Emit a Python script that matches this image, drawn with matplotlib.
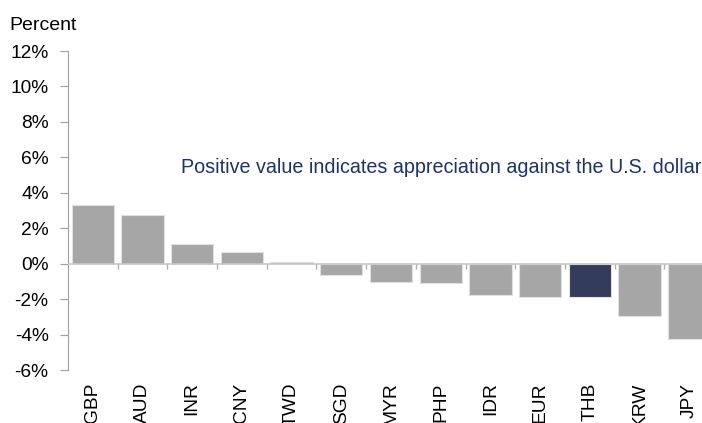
import numpy as np
import matplotlib.pyplot as plt

plt.rcParams['font.family'] = ['Liberation Sans', 'DejaVu Sans']

currencies = ['GBP', 'AUD', 'INR', 'CNY', 'TWD', 'SGD', 'MYR', 'PHP', 'IDR', 'EUR', 'THB', 'KRW', 'JPY']
change = [3.32, 2.76, 1.13, 0.66, 0.08, -0.66, -1.01, -1.07, -1.75, -1.86, -1.9, -2.95, -4.26]
highlight = 'THB'
yticks = [-6, -4, -2, 0, 2, 4, 6, 8, 10, 12]

gray = '#a6a6a6'
navy = '#323c5a'
cols = [navy if c == highlight else gray for c in currencies]

fig = plt.figure(figsize=(7.02, 4.23), dpi=100)
ax = fig.add_axes([68/702, 53/423, 646/702, 319/423])

x = np.arange(len(currencies))
ax.bar(x, change, width=0.85, color=cols, edgecolor='#e0e0e0', linewidth=0.8, zorder=2)
ax.axhline(0, color='#c8c8c8', lw=1.2, zorder=3)

ax.set_xlim(-0.5, len(currencies) - 0.5)
ax.set_ylim(-6, 12)
ax.set_yticks(yticks)
ax.set_yticklabels([f'{v}%' for v in yticks], fontsize=13.8)

for s in ['top', 'right', 'bottom']:
    ax.spines[s].set_visible(False)
ax.spines['left'].set_color('#a0a0a0')
ax.tick_params(axis='y', colors='#a0a0a0', labelcolor='black', length=6, pad=8)

# category labels sit well below the zero line (cut at the bottom like the source)
ax.set_xticks(x)
ax.set_xticklabels(currencies, rotation=90, fontsize=13.8, va='top')
ax.tick_params(axis='x', length=0, pad=9)
ax.vlines(x[:-1] + 0.5, -0.3, 0, color='#b0b0b0', lw=1, zorder=3)

ax.text(181/702, 1 - 167/423, 'Positive value indicates appreciation against the U.S. dollar',
        transform=fig.transFigure, fontsize=14.2, color='#1f3366', va='center', ha='left')
fig.text(9/702, 1 - 30/423, 'Percent', fontsize=14, va='baseline', ha='left')

fig.savefig('out.png', dpi=100)
